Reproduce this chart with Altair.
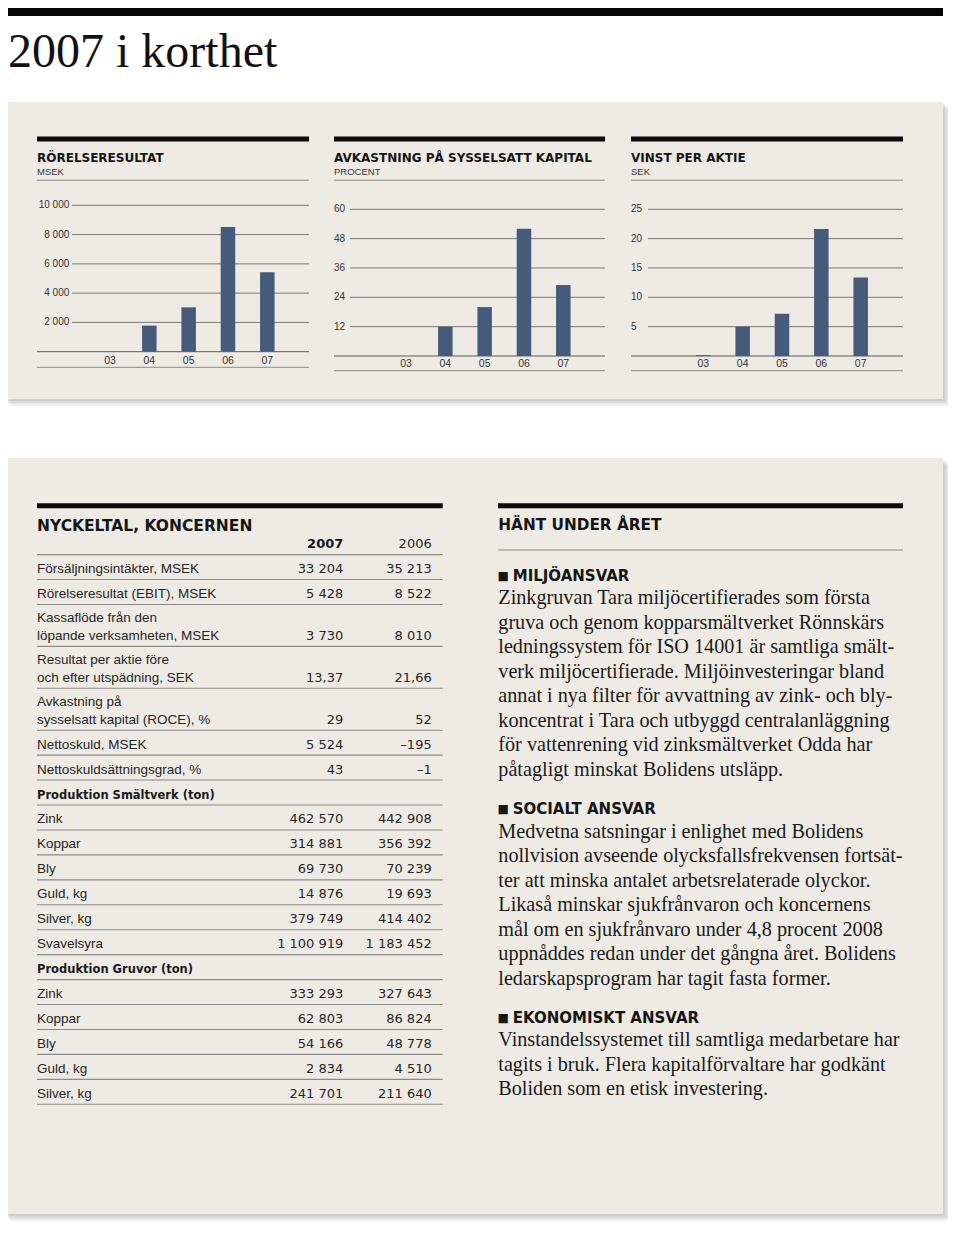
import altair as alt
import pandas as pd

# ---------------- data ----------------
years = ["03", "04", "05", "06", "07"]
ebit_msek = [0, 1780, 3030, 8522, 5428]          # Rörelseresultat, MSEK
roce_pct = [0, 12, 20, 52, 29]                   # Avkastning på sysselsatt kapital, %
eps_sek = [0.15, 5.0, 7.2, 21.66, 13.37]         # Vinst per aktie, SEK

ticks_ebit = [2000, 4000, 6000, 8000, 10000]
ticks_roce = [12, 24, 36, 48, 60]
ticks_eps = [5, 10, 15, 20, 25]

chart_titles = ["RÖRELSERESULTAT", "AVKASTNING PÅ SYSSELSATT KAPITAL", "VINST PER AKTIE"]
chart_units = ["MSEK", "PROCENT", "SEK"]

table_title = "NYCKELTAL, KONCERNEN"
table_cols = ["2007", "2006"]
table_labels = [
    "Försäljningsintäkter, MSEK",
    "Rörelseresultat (EBIT), MSEK",
    "Kassaflöde från den\nlöpande verksamheten, MSEK",
    "Resultat per aktie före\noch efter utspädning, SEK",
    "Avkastning på\nsysselsatt kapital (ROCE), %",
    "Nettoskuld, MSEK",
    "Nettoskuldsättningsgrad, %",
    "Produktion Smältverk (ton)",
    "Zink", "Koppar", "Bly", "Guld, kg", "Silver, kg", "Svavelsyra",
    "Produktion Gruvor (ton)",
    "Zink", "Koppar", "Bly", "Guld, kg", "Silver, kg",
]
table_2007 = [33204, 5428, 3730, 13.37, 29, 5524, 43, None,
              462570, 314881, 69730, 14876, 379749, 1100919, None,
              333293, 62803, 54166, 2834, 241701]
table_2006 = [35213, 8522, 8010, 21.66, 52, -195, -1, None,
              442908, 356392, 70239, 19693, 414402, 1183452, None,
              327643, 86824, 48778, 4510, 211640]

news_title = "HÄNT UNDER ÅRET"
news_heads = ["MILJÖANSVAR", "SOCIALT ANSVAR", "EKONOMISKT ANSVAR"]
news_lines = [
    ["Zinkgruvan Tara miljöcertifierades som första",
     "gruva och genom kopparsmältverket Rönnskärs",
     "ledningssystem för ISO 14001 är samtliga smält-",
     "verk miljöcertifierade. Miljöinvesteringar bland",
     "annat i nya filter för avvattning av zink- och bly-",
     "koncentrat i Tara och utbyggd centralanläggning",
     "för vattenrening vid zinksmältverket Odda har",
     "påtagligt minskat Bolidens utsläpp."],
    ["Medvetna satsningar i enlighet med Bolidens",
     "nollvision avseende olycksfallsfrekvensen fortsät-",
     "ter att minska antalet arbetsrelaterade olyckor.",
     "Likaså minskar sjukfrånvaron och koncernens",
     "mål om en sjukfrånvaro under 4,8 procent 2008",
     "uppnåddes redan under det gångna året. Bolidens",
     "ledarskapsprogram har tagit fasta former."],
    ["Vinstandelssystemet till samtliga medarbetare har",
     "tagits i bruk. Flera kapitalförvaltare har godkänt",
     "Boliden som en etisk investering."],
]

page_title = "2007 i korthet"

# ---------------- style ----------------
OFF = 8
def px(v):
    return v - OFF

BEIGE = "#eeebe5"
BAR = "#465a7b"
INK = "#1c1c1c"
RULE = "#8a8a8a"
SANS = "Liberation Sans"
BOLD = "DejaVu Sans"
SERIF = "Liberation Serif"

dummy = pd.DataFrame({"_": [0]})


def rect(x0, y0, x1, y1, color, opacity=1.0):
    return alt.Chart(dummy).mark_rect(color=color, opacity=opacity).encode(
        x=alt.value(px(x0)), x2=alt.value(px(x1)), y=alt.value(px(y0)), y2=alt.value(px(y1)))


def hrule(x0, x1, y, color=RULE, w=1.0):
    return alt.Chart(dummy).mark_rule(color=color, strokeWidth=w).encode(
        x=alt.value(px(x0)), x2=alt.value(px(x1)), y=alt.value(px(y)))


def label(s, x, y, size, font=SANS, weight="normal", color=INK, align="left"):
    return alt.Chart(dummy).mark_text(
        text=s, fontSize=size, font=font, fontWeight=weight, color=color,
        align=align, baseline="alphabetic").encode(x=alt.value(px(x)), y=alt.value(px(y)))


def fmt_num(v):
    if v is None:
        return ""
    if isinstance(v, float) and not float(v).is_integer():
        s = f"{abs(v):,.2f}"
    else:
        s = f"{abs(int(v)):,}"
    s = s.replace(",", " ").replace(".", ",")
    return ("–" + s) if v < 0 else s


layers = []

# page header
layers.append(rect(0, 0, 943, 16, "#050505"))
layers.append(label(page_title, 8, 67, 48, font=SERIF, color="#111"))


def panel(x0, y0, x1, y1):
    out = []
    for d in [7, 5, 3.5, 2]:
        out.append(rect(x0 + d, y0 + d, x1 + d, y1 + d, "#7a7a7a", 0.10))
    out.append(rect(x0, y0, x1, y1, BEIGE))
    return out


layers += panel(3, 102, 943, 399)
layers += panel(3, 458, 943, 1214)

# ---------------- bar charts ----------------
bar_layout = [
    dict(left=37, right=309, y0=351.7, y1=205.3, grid_x=72, lab_x=69.3, lab_align="right",
         yr=(110, 267.3), year_y=363.5, bottom=367.3),
    dict(left=334, right=605, y0=356.0, y1=209.3, grid_x=350, lab_x=334, lab_align="left",
         yr=(406, 563.3), year_y=367.3, bottom=370.7),
    dict(left=631, right=903, y0=356.0, y1=209.3, grid_x=648, lab_x=631, lab_align="left",
         yr=(703.3, 860.7), year_y=367.3, bottom=370.7),
]
series = [ebit_msek, roce_pct, eps_sek]
tick_sets = [ticks_ebit, ticks_roce, ticks_eps]

for i in range(3):
    L = bar_layout[i]
    bars_df = pd.DataFrame({"year": years, "value": series[i]})
    ticks_df = pd.DataFrame({"tick": tick_sets[i],
                             "lab": [fmt_num(t) for t in tick_sets[i]]})
    ys = alt.Scale(domain=[0, tick_sets[i][-1]], range=[px(L["y0"]), px(L["y1"])], nice=False, zero=True)
    xs = alt.Scale(type="point", domain=years, range=[px(L["yr"][0]), px(L["yr"][1])], padding=0)

    grid = alt.Chart(ticks_df).mark_rule(color="#6b6b6b", strokeWidth=0.9).encode(
        y=alt.Y("tick:Q", scale=ys, axis=None),
        x=alt.value(px(L["grid_x"])), x2=alt.value(px(L["right"])))
    ticklab = alt.Chart(ticks_df).mark_text(
        font=SANS, fontSize=10, color="#333", align=L["lab_align"], baseline="middle").encode(
        y=alt.Y("tick:Q", scale=ys, axis=None), x=alt.value(px(L["lab_x"])), text="lab:N")
    bars = alt.Chart(bars_df).mark_bar(color=BAR, size=14.5).encode(
        x=alt.X("year:N", scale=xs, axis=None),
        y=alt.Y("value:Q", scale=ys, axis=None))
    yearlab = alt.Chart(bars_df).mark_text(
        font=SANS, fontSize=10.5, color="#333", baseline="alphabetic").encode(
        x=alt.X("year:N", scale=xs, axis=None), y=alt.value(px(L["year_y"])), text="year:N")
    layers.append(alt.layer(grid, ticklab, bars, yearlab))

    layers.append(rect(L["left"], 136.5, L["right"], 141.5, "#0b0b0b"))
    layers.append(label(chart_titles[i], L["left"], 162.3, 12, font=BOLD, weight="bold", color="#151515"))
    layers.append(label(chart_units[i], L["left"], 175, 9.5, color="#333"))
    layers.append(hrule(L["left"], L["right"], 180.2, RULE, 1))
    layers.append(hrule(L["left"], L["right"], L["y0"], "#5c5c5c", 1))
    layers.append(hrule(L["left"], L["right"], L["bottom"], RULE, 1))

# ---------------- key figures table ----------------
rows = []
end = 0.0
for lab, a, b in zip(table_labels, table_2007, table_2006):
    parts = lab.split("\n")
    end += 1.0 if len(parts) == 1 else 1.68
    rows.append(dict(first=parts[0] if len(parts) > 1 else "", last=parts[-1],
                     bold=a is None, v07=fmt_num(a), v06=fmt_num(b), end=end))
tdf = pd.DataFrame(rows)
tys = alt.Scale(domain=[0, end], range=[px(554.6), px(1104.3)], nice=False, zero=False)
TX0, TX1 = 37, 442.7

trules = alt.Chart(tdf).mark_rule(color=RULE, strokeWidth=1.1).encode(
    y=alt.Y("end:Q", scale=tys, axis=None), x=alt.value(px(TX0)), x2=alt.value(px(TX1)))
tlast = alt.Chart(tdf).transform_filter("!datum.bold").mark_text(
    font=SANS, fontSize=13.5, color="#262626", align="left", baseline="alphabetic", dy=-6.5).encode(
    y=alt.Y("end:Q", scale=tys, axis=None), x=alt.value(px(TX0)), text="last:N")
tboldlab = alt.Chart(tdf).transform_filter("datum.bold").mark_text(
    font=BOLD, fontSize=11.5, fontWeight="bold", color="#1a1a1a", align="left",
    baseline="alphabetic", dy=-6.5).encode(
    y=alt.Y("end:Q", scale=tys, axis=None), x=alt.value(px(TX0)), text="last:N")
tfirst = alt.Chart(tdf).transform_filter("datum.first != ''").mark_text(
    font=SANS, fontSize=13.5, color="#262626", align="left", baseline="alphabetic", dy=-24).encode(
    y=alt.Y("end:Q", scale=tys, axis=None), x=alt.value(px(TX0)), text="first:N")
tv07 = alt.Chart(tdf).mark_text(
    font="DejaVu Sans", fontSize=13, color="#262626", align="right", baseline="alphabetic", dy=-6.5).encode(
    y=alt.Y("end:Q", scale=tys, axis=None), x=alt.value(px(343.3)), text="v07:N")
tv06 = alt.Chart(tdf).mark_text(
    font="DejaVu Sans", fontSize=13, color="#262626", align="right", baseline="alphabetic", dy=-6.5).encode(
    y=alt.Y("end:Q", scale=tys, axis=None), x=alt.value(px(431.7)), text="v06:N")
layers.append(alt.layer(trules, tlast, tboldlab, tfirst, tv07, tv06))

layers.append(rect(TX0, 503.3, TX1, 508.3, "#0b0b0b"))
layers.append(label(table_title, TX0, 530.7, 15.5, font=BOLD, weight="bold", color="#151515"))
layers.append(label(table_cols[0], 343.3, 547.7, 13, font=BOLD, weight="bold", color="#151515", align="right"))
layers.append(label(table_cols[1], 431.7, 547.7, 13, font="DejaVu Sans", color="#262626", align="right"))
layers.append(hrule(TX0, TX1, 554.6, RULE, 1.1))

# ---------------- news column ----------------
nrows = []
u = 0.0
for k, (head, lines) in enumerate(zip(news_heads, news_lines)):
    if k > 0:
        u += 1.57
    nrows.append(dict(txt=head, u=u, head=True))
    u += 0.95
    for j, ln in enumerate(lines):
        if j > 0:
            u += 1.0
        nrows.append(dict(txt=ln, u=u, head=False))
ndf = pd.DataFrame(nrows)
nys = alt.Scale(domain=[0, 20], range=[px(581), px(581 + 20 * 24.5)], nice=False, zero=False)
NX0, NX1 = 498.3, 903

nhead = alt.Chart(ndf).transform_filter("datum.head").mark_text(
    font=BOLD, fontSize=15, fontWeight="bold", color="#151515", align="left", baseline="alphabetic").encode(
    y=alt.Y("u:Q", scale=nys, axis=None), x=alt.value(px(512.7)), text="txt:N")
nsq = alt.Chart(ndf).transform_filter("datum.head").mark_text(
    text="■", font="DejaVu Sans", fontSize=12, color="#151515", align="left", baseline="alphabetic", dy=-1).encode(
    y=alt.Y("u:Q", scale=nys, axis=None), x=alt.value(px(497.5)))
nbody = alt.Chart(ndf).transform_filter("!datum.head").mark_text(
    font=SERIF, fontSize=20.2, color="#1a1a1a", align="left", baseline="alphabetic").encode(
    y=alt.Y("u:Q", scale=nys, axis=None), x=alt.value(px(NX0)), text="txt:N")
layers.append(alt.layer(nhead, nsq, nbody))

layers.append(rect(NX0 - 0.3, 503.3, NX1, 508.3, "#0b0b0b"))
layers.append(label(news_title, NX0, 530, 15.3, font=BOLD, weight="bold", color="#151515"))
layers.append(hrule(NX0, NX1, 550, RULE, 1.1))

chart = alt.layer(*layers).resolve_scale(x="independent", y="independent").properties(
    width=940, height=1216, padding=0, autosize="none", background="white"
).configure_view(stroke=None)

chart.save("out.html", embed_options={"renderer": "svg", "actions": False})
